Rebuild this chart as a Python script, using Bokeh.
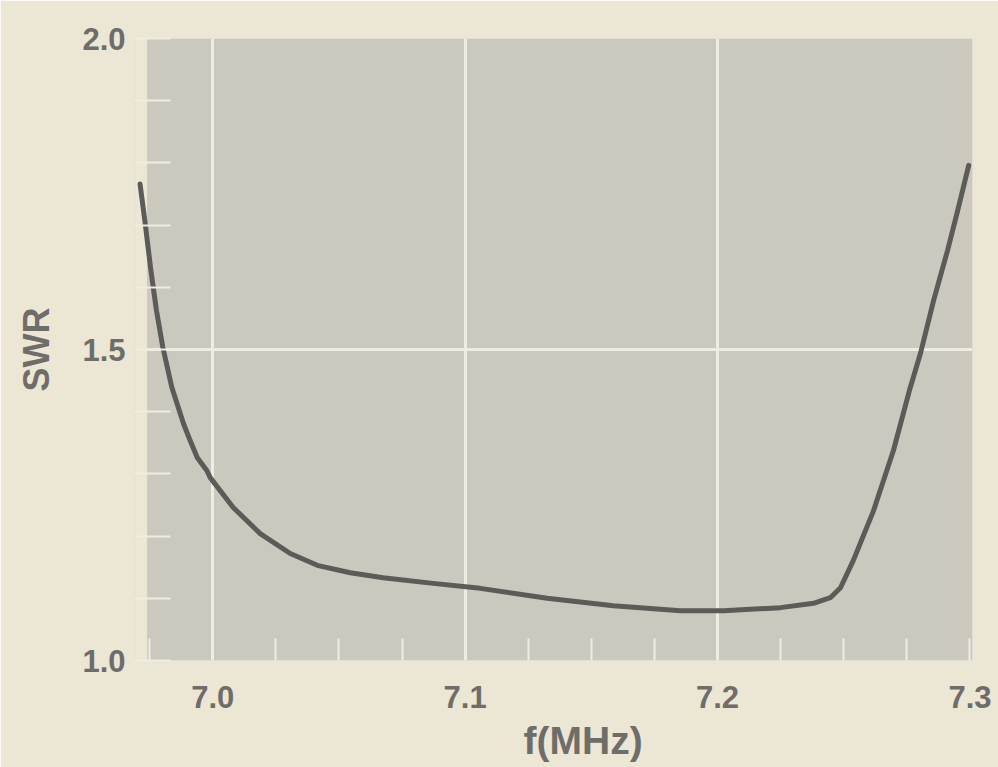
from bokeh.plotting import figure
from bokeh.embed import file_html
from bokeh.resources import INLINE
from bokeh.models import (SingleIntervalTicker, PrintfTickFormatter, BoxAnnotation,
                          Title, ColumnDataSource)

# ---- data ----
freq_mhz = [6.9712, 6.9731, 6.9755, 6.9777, 6.9802, 6.9838, 6.9884, 6.9910, 6.9939,
            6.9977, 6.9990, 7.0081, 7.0188, 7.0307, 7.0414, 7.0545, 7.0675, 7.0873,
            7.1060, 7.1325, 7.1587, 7.1853, 7.2023, 7.2249, 7.2380, 7.2447, 7.2487,
            7.2538, 7.2618, 7.2697, 7.2760, 7.2804, 7.2856, 7.2911, 7.2951, 7.2995]
swr = [1.766, 1.707, 1.627, 1.563, 1.504, 1.439, 1.381, 1.354, 1.326,
       1.305, 1.294, 1.246, 1.204, 1.172, 1.153, 1.141, 1.133, 1.124,
       1.116, 1.100, 1.088, 1.080, 1.080, 1.085, 1.092, 1.101, 1.117,
       1.161, 1.241, 1.338, 1.434, 1.494, 1.579, 1.659, 1.723, 1.796]

x_label = "f(MHz)"
y_label = "SWR"

BEIGE = "#ECE6D4"
GRAY = "#CBC8BE"
GRID = "#EFECE4"
CURVE = "#5C5B58"
TEXT = "#6E6D69"
FONT = "Liberation Sans"

p = figure(width=998, height=767, x_range=(6.969, 7.301), y_range=(1.0, 2.0),
           output_backend="svg", toolbar_location=None,
           min_border_left=134, min_border_right=26, min_border_top=38, min_border_bottom=107)

p.background_fill_color = GRAY
p.border_fill_color = BEIGE
p.outline_line_color = None

# beige strip left of the plotting area (curve starts outside the grey panel)
p.add_layout(BoxAnnotation(right=6.974, fill_color=BEIGE, fill_alpha=1.0,
                           line_color=None, level="underlay"))

xt = SingleIntervalTicker(interval=0.1, num_minor_ticks=4)
yt = SingleIntervalTicker(interval=0.5, num_minor_ticks=5)

p.xaxis.ticker = xt
p.yaxis.ticker = yt
p.xaxis.formatter = PrintfTickFormatter(format="%.1f")
p.yaxis.formatter = PrintfTickFormatter(format="%.1f")

for ax in (p.xaxis, p.yaxis):
    ax.axis_line_color = None
    ax.major_tick_in = 0
    ax.major_tick_out = 0
    ax.minor_tick_out = 0
    ax.minor_tick_line_color = GRID
    ax.minor_tick_line_width = 2
    ax.major_label_text_font = FONT
    ax.major_label_text_font_style = "bold"
    ax.major_label_text_font_size = "31px"
    ax.major_label_text_color = TEXT

p.xaxis.minor_tick_in = 22
p.yaxis.minor_tick_in = 36
p.xaxis.major_label_standoff = 25
p.yaxis.major_label_standoff = 9

p.yaxis.axis_label = y_label
p.yaxis.axis_label_text_font = FONT
p.yaxis.axis_label_text_font_style = "bold"
p.yaxis.axis_label_text_font_size = "36px"
p.yaxis.axis_label_text_color = TEXT
p.yaxis.axis_label_standoff = 22

p.xgrid.ticker = xt
p.ygrid.ticker = yt
p.xgrid.bounds = (6.99, 7.25)
p.ygrid.bounds = (1.2, 1.8)
p.grid.grid_line_color = GRID
p.grid.grid_line_width = 3

src = ColumnDataSource(dict(x=freq_mhz, y=swr))
p.line("x", "y", source=src, line_color=CURVE, line_width=5,
       line_join="round", line_cap="round")

p.add_layout(Title(text=x_label, align="left", offset=389, standoff=12,
                   text_font=FONT, text_font_style="bold", text_font_size="39px",
                   text_line_height=0.75, text_color=TEXT), "below")

html = file_html(p, INLINE)
html = html.replace("<body>", '<body style="background-color:%s;">' % BEIGE, 1)
open("out.html", "w").write(html)
